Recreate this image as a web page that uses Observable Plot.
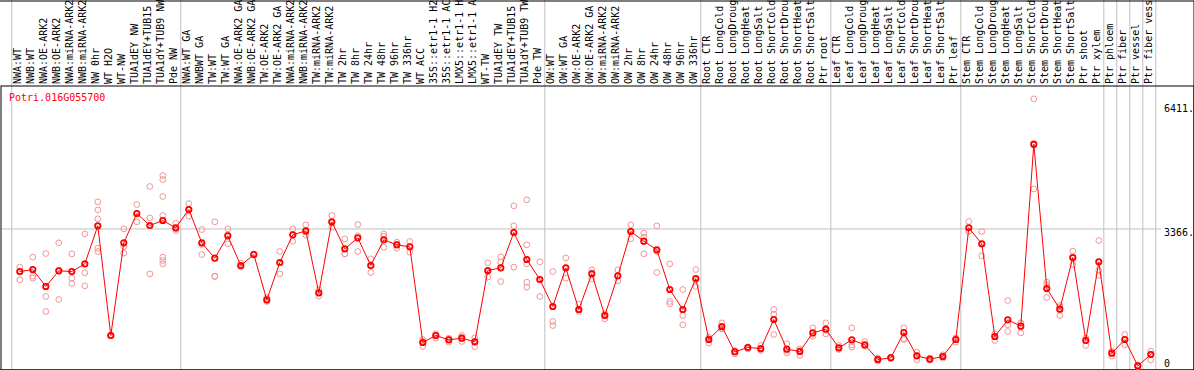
<!DOCTYPE html>
<html><head><meta charset="utf-8">
<script src="https://cdn.jsdelivr.net/npm/d3@7"></script>
<script src="https://cdn.jsdelivr.net/npm/@observablehq/plot@0.6"></script>
<style>body{margin:0;background:#fff}</style>
</head><body>
<div id="chart"></div>
<script>
const geneId = "Potri.016G055700";

const sampleLabels = [
  "NWA:WT","NWB:WT","NWA:OE-ARK2","NWB:OE-ARK2","NWA:miRNA-ARK2","NWB:miRNA-ARK2","NW 0hr","WT H2O","WT-NW","TUA1dEY NW","TUA1dEY+TUB15","TUA1dY+TUB9 NW","Pde NW",
  "NWA:WT GA","NWBWT GA","TW:WT","TW:WT GA","NWA:OE-ARK2 GA","NWB:OE-ARK2 GA","TW:OE-ARK2","TW:OE-ARK2 GA","NWA:miRNA-ARK2","NWB:miRNA-ARK2","TW:miRNA-ARK2","TW:miRNA-ARK2","TW 2hr","TW 8hr","TW 24hr","TW 48hr","TW 96hr","TW 336hr","WT ACC","35S::etr1-1 H2","35S::etr1-1 AC","LMX5::etr1-1 H","LMX5::etr1-1 A","WT-TW","TUA1dEY TW","TUA1dEY+TUB15","TUA1dY+TUB9 TW","Pde TW",
  "OW:WT","OW:WT GA","OW:OE-ARK2","OW:OE-ARK2 GA","OW:miRNA-ARK2","OW:miRNA-ARK2","OW 2hr","OW 8hr","OW 24hr","OW 48hr","OW 96hr","OW 336hr",
  "Root CTR","Root LongCold","Root LongDroug","Root LongHeat","Root LongSalt","Root ShortCold","Root ShortDrou","Root ShortHeat","Root ShortSalt","Ptr root",
  "Leaf CTR","Leaf LongCold","Leaf LongDroug","Leaf LongHeat","Leaf LongSalt","Leaf ShortCold","Leaf ShortDrou","Leaf ShortHeat","Leaf ShortSalt","Ptr leaf",
  "Stem CTR","Stem LongCold","Stem LongDroug","Stem LongHeat","Stem LongSalt","Stem ShortCold","Stem ShortDrou","Stem ShortHeat","Stem ShortSalt","Ptr shoot","Ptr xylem",
  "Ptr phloem","Ptr fiber","Ptr vessel","Ptr fiber vess"
];

const meanValues = [
  2324, 2373, 1957, 2341, 2324, 2512, 3442, 759, 3026, 3744, 3450, 3572, 3393,
  3841, 3026, 2651, 3197, 2471, 2740, 1631, 2545, 3222, 3319, 1802, 3540, 2879, 3148, 2471, 3099, 2977, 2928, 587, 759, 652, 693, 604, 2349, 2414, 3279, 2618, 2129,
  1468, 2414, 1395, 2267, 1248, 2218, 3303, 3067, 2855, 1884, 1395, 2153,
  661, 979, 359, 465, 440, 1150, 424, 367, 824, 913,
  457, 652, 530, 171, 212, 832, 261, 179, 245, 661,
  3393, 3001, 734, 1142, 987, 5440, 1908, 1403, 2667, 636, 2561,
  326, 661, 15, 294
];

const replicateValues = [
  [2432, 2311, 2121], [2675, 2210, 2161], [2765, 1713, 1346], [3026, 2357, 1639], [2757, 2161, 2031], [3246, 2292, 1974],
  [4029, 3833, 3613, 2895, 2814], [767, 759, 750], [3368, 2936, 2773], [3964, 3727, 3540], [4404, 3638, 2267],
  [4673, 4575, 4160, 3695, 2675, 2594, 2512], [3507, 3368, 3328],
  [3988, 3841, 3678], [3352, 2985, 2740], [3540, 2210, 2202], [3368, 3222, 3001], [2528, 2447, 2439], [2757, 2740, 2724],
  [1688, 1615, 1590], [2814, 2545, 2267], [3368, 3222, 3067], [3466, 3287, 3213], [1884, 1802, 1721], [3695, 3515, 3409],
  [3124, 2757, 2757], [3474, 3197, 2814], [2634, 2471, 2300], [3246, 3189, 2920], [3042, 2993, 2895], [3059, 2928, 2797],
  [661, 612, 489], [799, 759, 693], [693, 661, 595], [759, 710, 612], [701, 612, 489],
  [2537, 2324, 2186], [2683, 2553, 2080], [3931, 3442, 2430], [4078, 2977, 2618, 2512, 2063, 1941], [2561, 2129, 1713],
  [2324, 1101, 1003], [2659, 2414, 2161], [1525, 1395, 1346], [2365, 2292, 2145], [1289, 1248, 1166], [2365, 2218, 2096],
  [3466, 3303, 3124], [3262, 3164, 2757], [3442, 2814, 2300], [2512, 1590, 1533], [1884, 1248, 1020], [2373, 2129, 1957],
  [718, 677, 571], [1068, 938, 922], [391, 367, 310], [481, 465, 432], [514, 416, 391], [1395, 1280, 783],
  [555, 391, 334], [432, 391, 269], [946, 799, 742], [1068, 881, 799],
  [514, 449, 416], [946, 530, 473], [612, 514, 489], [204, 188, 130], [228, 212, 196], [946, 677, 661],
  [351, 269, 163], [204, 179, 155], [285, 245, 204], [701, 677, 595],
  [3548, 3311, 3311], [3303, 3001, 2708], [799, 734, 636], [1615, 1020, 856], [1060, 1068, 824], [6549, 5423, 4347],
  [2063, 1998, 1688], [1493, 1452, 1248], [2822, 2667, 2496], [693, 636, 514], [3083, 2349, 2227],
  [375, 310, 253], [783, 661, 530], [41, 4, 0], [375, 302, 163]
];

const groupSizes = [13, 28, 12, 10, 10, 11, 1, 1, 1, 1];
const tickValues = [6411, 3366, 0];
const tickLabels = ["6411.", "3366.", "0"];
const gridValues = [3366];

const samples = sampleLabels.map((label, i) => ({i, label, mean: meanValues[i]}));
const reps = replicateValues.flatMap((vals, i) => vals.map(v => ({i, v})));
const boundaries = [-1];
groupSizes.reduce((acc, s) => { acc += s; boundaries.push(acc); return acc; }, -1);
const ticks = tickValues.map((v, k) => ({v, label: tickLabels[k]}));

const chart = Plot.plot({
  width: 1194, height: 370,
  marginTop: 85, marginRight: 0, marginBottom: 0, marginLeft: 0,
  style: {fontFamily: "'DejaVu Sans Mono', monospace", fontSize: "10px", background: "white", color: "black"},
  x: {type: "linear", domain: [0, sampleLabels.length - 1], range: [19.3, 1150.3], axis: null},
  y: {type: "linear", domain: [0, 6411], range: [366, 104], axis: null},
  marks: [
    Plot.ruleY(gridValues, {y: d => d, stroke: "#c0c0c0", insetLeft: 1, insetRight: 33}),
    Plot.ruleX(boundaries, {x: d => d, dx: 5, stroke: "#c0c0c0", insetTop: -85}),
    Plot.frame({stroke: "black", insetTop: -84.5, insetLeft: -1, insetRight: 0.5, insetBottom: 0.5}),
    Plot.frame({stroke: "black", inset: 0.5}),
    Plot.dot(reps, {x: "i", y: "v", r: 2.9, stroke: "#f09595", strokeWidth: 1}),
    Plot.line(samples, {x: "i", y: "mean", stroke: "red", strokeWidth: 1}),
    Plot.dot(samples, {x: "i", y: "mean", r: 2.7, stroke: "red", strokeWidth: 1.8}),
    Plot.text(samples, {x: "i", text: "label", frameAnchor: "top", rotate: -90, textAnchor: "start", lineAnchor: "bottom", dx: 1.4, dy: -1.5, fill: "black"}),
    Plot.text([geneId], {text: d => d, frameAnchor: "top-left", textAnchor: "start", lineAnchor: "top", dx: 8.5, dy: 8.3, fill: "red"}),
    Plot.text(ticks.filter(t => t.v !== 0), {y: "v", text: "label", frameAnchor: "right", textAnchor: "start", lineAnchor: "top", dx: -30.5, fill: "black"}),
    Plot.text(ticks.filter(t => t.v === 0), {y: "v", text: "label", frameAnchor: "right", textAnchor: "start", lineAnchor: "bottom", dx: -30.5, fill: "black"})
  ]
});
document.getElementById("chart").appendChild(chart);
</script>
</body></html>
